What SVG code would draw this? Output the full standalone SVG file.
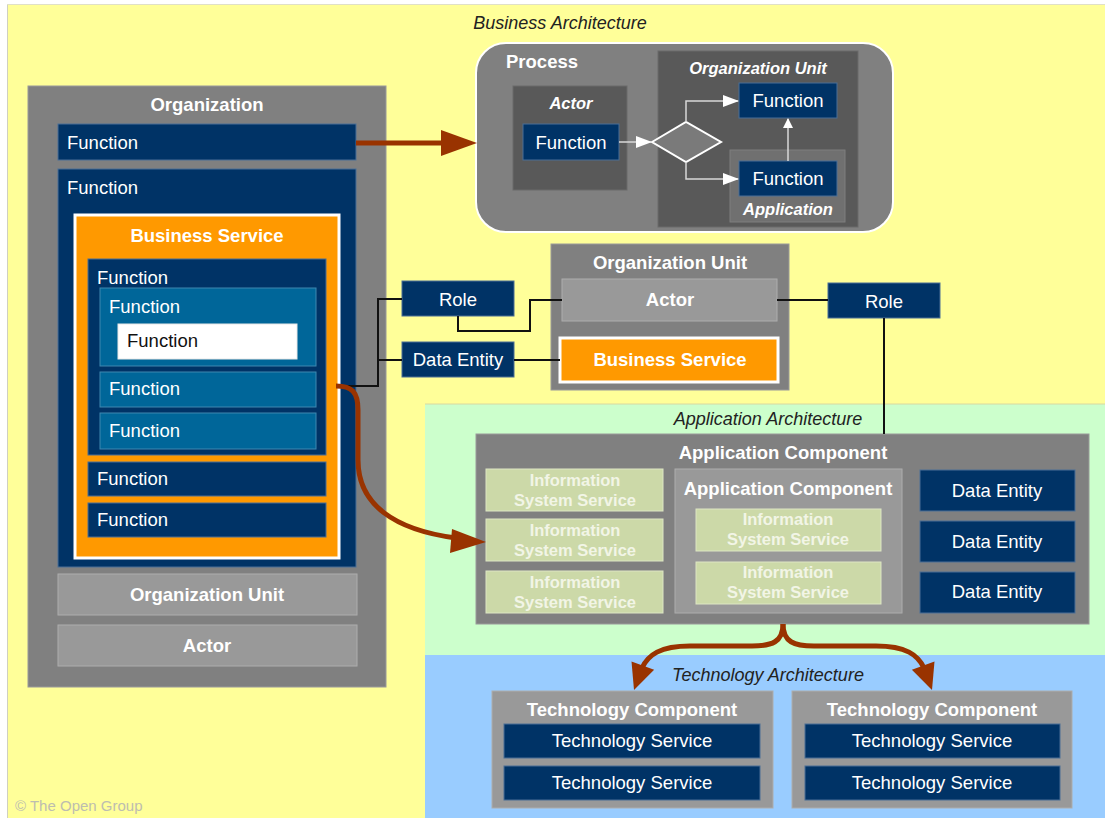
<svg xmlns="http://www.w3.org/2000/svg" width="1105" height="818" viewBox="0 0 1105 818">
<defs>
<style>
text{font-family:"Liberation Sans",Arial,sans-serif;font-size:18.5px;fill:#fff}
.b{font-weight:bold}
.i{font-style:italic}
.c{text-anchor:middle}
.hdr{fill:#222;font-style:italic;font-size:18px}
.navy{fill:#003366;stroke:#4a6f96;stroke-width:1}
.mid{fill:#006699;stroke:#3f88b0;stroke-width:1}
.grey{fill:#808080;stroke:#9a9a9a;stroke-width:1}
.lgrey{fill:#999999;stroke:#adadad;stroke-width:1}
.dgrey{fill:#595959;stroke:#6a6a6a;stroke-width:1}
.iss{fill:#ccd9a8;stroke:#dde6c4;stroke-width:1}
.isst{font-weight:bold;font-size:16.5px;fill:#f2f5e6}
.blk{fill:none;stroke:#111;stroke-width:2}
.wl{fill:none;stroke:#d8d8d8;stroke-width:1.5}
.br{fill:none;stroke:#993300;stroke-width:5}
.brh{fill:#993300}
</style>
<marker id="wa" markerWidth="10" markerHeight="10" refX="9" refY="5" orient="auto" markerUnits="userSpaceOnUse">
<path d="M0,0 L10,5 L0,10 z" fill="#fff"/>
</marker>
<marker id="wa2" markerWidth="16" markerHeight="12" refX="15" refY="6" orient="auto" markerUnits="userSpaceOnUse">
<path d="M0,0 L16,6 L0,12 z" fill="#fff"/>
</marker>
</defs>

<g id="background">
<rect x="0" y="0" width="1105" height="818" fill="#fff"/>
<rect x="7" y="4" width="1098" height="814" fill="#ffff99"/>
<line x1="7.5" y1="4" x2="7.5" y2="818" stroke="#d0d0c0" stroke-width="1"/>
<line x1="7" y1="4.5" x2="1105" y2="4.5" stroke="#e0e0c8" stroke-width="1"/>
<rect x="425" y="404" width="680" height="251" fill="#ccffcc"/>
<rect x="425" y="655" width="680" height="163" fill="#99ccff"/>
<line x1="425" y1="404" x2="1105" y2="404" stroke="#d8d8a0" stroke-width="1"/>
<text x="560" y="29" class="hdr c">Business Architecture</text>
<text x="768" y="425" class="hdr c">Application Architecture</text>
<text x="768" y="681" class="hdr c">Technology Architecture</text>
<text x="15" y="811" style="font-size:15px;fill:#bdbdb0">© The Open Group</text>
</g>

<g id="organization">
<rect x="28" y="86" width="358" height="601" class="grey"/>
<text x="207" y="111" class="b c">Organization</text>
</g>
<g id="org-function-top">
<rect x="58" y="124" width="298" height="36" class="navy"/>
<text x="67" y="149">Function</text>
</g>
<g id="org-function-big">
<rect x="58" y="169" width="298" height="398" class="navy"/>
<text x="67" y="194">Function</text>
</g>
<g id="business-service-left">
<rect x="75" y="215" width="264" height="343" fill="#ff9900" stroke="#fff" stroke-width="3"/>
<text x="207" y="242" class="b c">Business Service</text>
</g>
<g id="bs-function-outer">
<rect x="88" y="259" width="238" height="196" class="navy"/>
<text x="97" y="284">Function</text>
</g>
<g id="bs-function-mid1">
<rect x="100" y="288" width="216" height="78" class="mid"/>
<text x="109" y="313">Function</text>
</g>
<g id="bs-function-white">
<rect x="118" y="324" width="179" height="35" fill="#fff" stroke="#e8e8e8"/>
<text x="127" y="347" style="fill:#111">Function</text>
</g>
<g id="bs-function-mid2">
<rect x="100" y="372" width="216" height="35" class="mid"/>
<text x="109" y="395">Function</text>
</g>
<g id="bs-function-mid3">
<rect x="100" y="413" width="216" height="36" class="mid"/>
<text x="109" y="437">Function</text>
</g>
<g id="bs-function-4">
<rect x="88" y="462" width="238" height="34" class="navy"/>
<text x="97" y="485">Function</text>
</g>
<g id="bs-function-5">
<rect x="88" y="503" width="238" height="34" class="navy"/>
<text x="97" y="526">Function</text>
</g>
<g id="org-unit-left">
<rect x="58" y="574" width="299" height="41" class="lgrey"/>
<text x="207" y="601" class="b c">Organization Unit</text>
</g>
<g id="actor-left">
<rect x="58" y="625" width="299" height="41" class="lgrey"/>
<text x="207" y="652" class="b c">Actor</text>
</g>

<g id="process">
<rect x="476" y="43" width="417" height="189" rx="30" ry="30" fill="#808080" stroke="#fff" stroke-width="2"/>
<text x="506" y="68" class="b">Process</text>
</g>
<g id="process-actor">
<rect x="513" y="86" width="114" height="104" class="dgrey"/>
<text x="571" y="109" class="b i c" style="font-size:16.5px">Actor</text>
</g>
<g id="process-actor-function">
<rect x="523" y="124" width="96" height="36" class="navy"/>
<text x="571" y="149" class="c">Function</text>
</g>
<g id="process-org-unit">
<rect x="658" y="51" width="200" height="176" class="dgrey"/>
<text x="758" y="74" class="b i c" style="font-size:16.5px">Organization Unit</text>
</g>
<g id="process-function-top">
<rect x="739" y="83" width="98" height="35" class="navy"/>
<text x="788" y="107" class="c">Function</text>
</g>
<g id="process-application">
<rect x="730" y="150" width="115" height="72" fill="#707070" stroke="#7e7e7e"/>
<text x="788" y="215" class="b i c" style="font-size:16.5px">Application</text>
</g>
<g id="process-function-bottom">
<rect x="739" y="161" width="98" height="35" class="navy"/>
<text x="788" y="185" class="c">Function</text>
</g>
<g id="decision">
<polygon points="652,142 686,122 721,142 686,162" fill="#7a7a7a" stroke="#fff" stroke-width="2"/>
</g>

<g id="org-unit-mid">
<rect x="551" y="244" width="238" height="146" class="grey"/>
<text x="670" y="269" class="b c">Organization Unit</text>
</g>
<g id="actor-mid">
<rect x="562" y="279" width="215" height="42" class="lgrey"/>
<text x="670" y="306" class="b c">Actor</text>
</g>
<g id="business-service-mid">
<rect x="560" y="338" width="218" height="44" fill="#ff9900" stroke="#fff" stroke-width="3"/>
<text x="670" y="366" class="b c">Business Service</text>
</g>
<g id="role-left">
<rect x="402" y="281" width="112" height="35" class="navy"/>
<text x="458" y="306" class="c">Role</text>
</g>
<g id="data-entity-mid">
<rect x="402" y="342" width="112" height="35" class="navy"/>
<text x="458" y="366" class="c">Data Entity</text>
</g>
<g id="role-right">
<rect x="828" y="283" width="112" height="35" class="navy"/>
<text x="884" y="308" class="c">Role</text>
</g>

<g id="app-component">
<rect x="476" y="434" width="613" height="190" class="grey"/>
<text x="783" y="459" class="b c">Application Component</text>
</g>
<g id="iss-1">
<rect x="486" y="469" width="177" height="42" class="iss"/>
<text x="575" y="486" class="isst c">Information</text>
<text x="575" y="506" class="isst c">System Service</text>
</g>
<g id="iss-2">
<rect x="486" y="519" width="177" height="42" class="iss"/>
<text x="575" y="536" class="isst c">Information</text>
<text x="575" y="556" class="isst c">System Service</text>
</g>
<g id="iss-3">
<rect x="486" y="571" width="177" height="42" class="iss"/>
<text x="575" y="588" class="isst c">Information</text>
<text x="575" y="608" class="isst c">System Service</text>
</g>
<g id="app-component-inner">
<rect x="675" y="469" width="227" height="144" class="lgrey"/>
<text x="788" y="495" class="b c">Application Component</text>
</g>
<g id="iss-4">
<rect x="696" y="509" width="185" height="42" class="iss"/>
<text x="788" y="525" class="isst c">Information</text>
<text x="788" y="545" class="isst c">System Service</text>
</g>
<g id="iss-5">
<rect x="696" y="562" width="185" height="42" class="iss"/>
<text x="788" y="578" class="isst c">Information</text>
<text x="788" y="598" class="isst c">System Service</text>
</g>
<g id="data-entity-1">
<rect x="920" y="470" width="155" height="41" class="navy"/>
<text x="997" y="497" class="c">Data Entity</text>
</g>
<g id="data-entity-2">
<rect x="920" y="521" width="155" height="41" class="navy"/>
<text x="997" y="548" class="c">Data Entity</text>
</g>
<g id="data-entity-3">
<rect x="920" y="572" width="155" height="41" class="navy"/>
<text x="997" y="598" class="c">Data Entity</text>
</g>

<g id="tech-component-1">
<rect x="492" y="691" width="281" height="117" class="lgrey"/>
<text x="632" y="716" class="b c">Technology Component</text>
</g>
<g id="tech-service-1">
<rect x="504" y="724" width="256" height="34" class="navy"/>
<text x="632" y="747" class="c">Technology Service</text>
</g>
<g id="tech-service-2">
<rect x="504" y="766" width="256" height="34" class="navy"/>
<text x="632" y="789" class="c">Technology Service</text>
</g>
<g id="tech-component-2">
<rect x="792" y="691" width="280" height="117" class="lgrey"/>
<text x="932" y="716" class="b c">Technology Component</text>
</g>
<g id="tech-service-3">
<rect x="805" y="724" width="255" height="34" class="navy"/>
<text x="932" y="747" class="c">Technology Service</text>
</g>
<g id="tech-service-4">
<rect x="805" y="766" width="255" height="34" class="navy"/>
<text x="932" y="789" class="c">Technology Service</text>
</g>

<g id="connectors">
<!-- process flow -->
<path class="wl" d="M619,142 L651,142" marker-end="url(#wa2)"/>
<path class="wl" d="M686,122 L686,101 L738,101" marker-end="url(#wa2)"/>
<path class="wl" d="M686,162 L686,179 L738,179" marker-end="url(#wa2)"/>
<path class="wl" d="M788,161 L788,119" marker-end="url(#wa)"/>
<!-- black association lines -->
<path class="blk" d="M340,386 L378,386 L378,299 L402,299"/>
<path class="blk" d="M378,360 L402,360"/>
<path class="blk" d="M458,316 L458,331 L530,331 L530,300 L562,300"/>
<path class="blk" d="M514,360 L560,360"/>
<path class="blk" d="M777,300 L828,300"/>
<path class="blk" d="M884,318 L884,434"/>
<!-- brown arrows -->
<path class="br" d="M356,143 L445,143"/>
<polygon class="brh" points="477,143 441,130 441,156"/>
<path class="br" d="M336,386 C352,386 358,392 358,410 L358,460 C358,505 395,530 456,538"/>
<polygon class="brh" points="486,542 452,529 450,553"/>
<path class="br" d="M783,624 C783,642 772,646 752,646 L690,646 C660,646 648,655 642,668"/>
<polygon class="brh" points="634,690 631.5,661.5 654.1,669.7"/>
<path class="br" d="M783,624 C783,642 794,646 814,646 L876,646 C906,646 918,655 924,668"/>
<polygon class="brh" points="932,690 934.5,661.5 911.9,669.7"/>
</g>
</svg>
